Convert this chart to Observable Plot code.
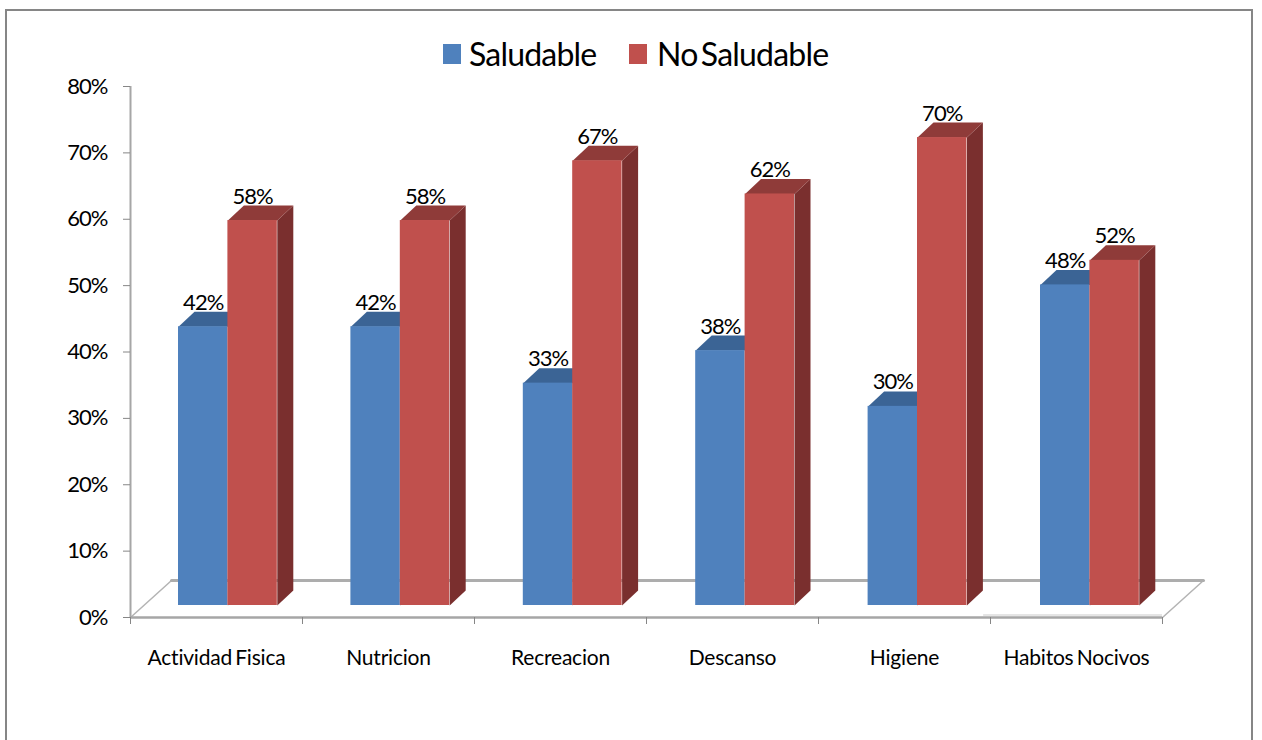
<!DOCTYPE html>
<html>
<head>
<meta charset="utf-8">
<script src="https://cdn.jsdelivr.net/npm/d3@7"></script>
<script src="https://cdn.jsdelivr.net/npm/@observablehq/plot@0.6"></script>
<style>
html,body{margin:0;padding:0;background:#fff;overflow:hidden;width:1262px;height:740px}
#wrap{position:relative;width:1262px;height:740px;font-family:Lato,sans-serif;color:#000}
#frame{position:absolute;left:5px;top:9px;width:1248px;height:800px;border:2px solid #868686;box-sizing:border-box;pointer-events:none}
#legend{position:relative;height:72px}
.sw{position:absolute;top:44px;width:18px;height:20px}
.lb{position:absolute;top:33px;font-size:32px;line-height:42px;white-space:nowrap;letter-spacing:-0.8px;word-spacing:-4px}
svg{display:block;position:relative;background:transparent}
svg text{letter-spacing:-1px}
</style>
</head>
<body>
<div id="wrap">
<div id="frame"></div>
<div id="legend"></div>
<div id="chart"></div>
</div>
<script>
const categories = ["Actividad Fisica","Nutricion","Recreacion","Descanso","Higiene","Habitos Nocivos"];
const saludable = [42,42,33.5,38.4,30,48.3];
const noSaludable = [58,58,67,62,70.5,52];
const yTicks = [0,10,20,30,40,50,60,70,80];
const xTicks = [0,1,2,3,4,5,6];
const seriesNames = ["Saludable","No Saludable"];
const colors = {front:["#4f81bd","#c0504d"], top:["#3b6495","#8f3b39"], side:["#376092","#7a2f2e"]};

// Oblique projection, expressed in the scales' own units
const pxX = 172, pxY = 6.6375;
const depthX = 16/pxX, depthY = 15/pxY, lift = 12/pxY;
const barStart = 48/pxX, barWidth = 49.4/pxX, barStep = 172.4/pxX;

const bars = [];
categories.forEach((c,i)=>{
  [saludable[i],noSaludable[i]].forEach((v,s)=>{
    const x1 = i*barStep+barStart+s*barWidth, x2 = x1+barWidth;
    bars.push({c,i,s,v,x1,x2,y1:lift,y2:v+lift});
  });
});
const sideFaces = s => bars.filter(b=>b.s===s).flatMap(b=>[
  {id:b.i,x:b.x2,y:b.y1},{id:b.i,x:b.x2+depthX,y:b.y1+depthY},
  {id:b.i,x:b.x2+depthX,y:b.y2+depthY},{id:b.i,x:b.x2,y:b.y2}]);
const topFaces = s => bars.filter(b=>b.s===s).flatMap(b=>[
  {id:b.i,x:b.x1,y:b.y2},{id:b.i,x:b.x1+depthX,y:b.y2+depthY},
  {id:b.i,x:b.x2+depthX,y:b.y2+depthY},{id:b.i,x:b.x2,y:b.y2}]);

const floorDX = 41/pxX, floorDY = 37/pxY;
const floorLeft = [{x:0,y:0},{x:floorDX,y:floorDY}];
const floorBack = [{x:floorDX,y:floorDY},{x:6+floorDX,y:floorDY}];
const floorRight = [{x:6+floorDX,y:floorDY},{x:6,y:0}];

const face = (data,fill)=>Plot.line(data,{x:"x",y:"y",z:"id",fill,stroke:null,curve:"linear-closed"});
const seriesMarks = s => [
  face(sideFaces(s),colors.side[s]),
  face(topFaces(s),colors.top[s]),
  Plot.rectY(bars.filter(b=>b.s===s),{x1:"x1",x2:"x2",y1:"y1",y2:"y2",fill:colors.front[s]})
];

const chart = Plot.plot({
  width:1262, height:668,
  marginLeft:130, marginRight:100, marginTop:14, marginBottom:123,
  style:{fontFamily:'Lato,sans-serif',background:"transparent",overflow:"visible"},
  x:{domain:[0,6],type:"linear"},
  y:{domain:[0,80]},
  marks:[
    Plot.line(floorLeft,{x:"x",y:"y",stroke:"#b4b4b4",strokeWidth:1.5}),
    Plot.line(floorRight,{x:"x",y:"y",stroke:"#b4b4b4",strokeWidth:1.5}),
    Plot.line(floorBack,{x:"x",y:"y",stroke:"#adadad",strokeWidth:3}),
    Plot.ruleY([2.5/pxY],{x1:4.96,x2:6,stroke:"#dcdcdc",strokeWidth:1.5}),
    Plot.ruleY([0],{x1:0,x2:6,stroke:"#a6a6a6",strokeWidth:2.5}),
    Plot.ruleX([0],{y1:0,y2:80,stroke:"#a6a6a6",strokeWidth:2}),
    Plot.ruleY(yTicks,{x1:-7/pxX,x2:0,stroke:"#868686",strokeWidth:1}),
    Plot.axisY(yTicks,{tickSize:0,tickPadding:23,tickFormat:d=>d+"%",fontSize:22,fill:"#000",label:null}),
    Plot.axisX(xTicks,{tickSize:7,tickFormat:()=>"",stroke:"#868686",label:null}),
    Plot.axisX(xTicks.slice(0,6).map(d=>d+0.5),{tickSize:0,tickPadding:33,tickFormat:d=>categories[Math.floor(d)],fontSize:21,fill:"#000",label:null}),
    ...seriesMarks(0),
    ...seriesMarks(1),
    Plot.text(bars,{x:b=>b.x1+barWidth/2,y:b=>b.y2+depthY,text:b=>Math.floor(b.v)+"%",fontSize:22,fill:"#000",lineAnchor:"bottom",dy:-2})
  ]
});
chart.querySelectorAll("text").forEach(t=>{
  if (categories.includes(t.textContent)) { t.style.letterSpacing="-0.2px"; t.style.wordSpacing="-2px"; }
});
document.getElementById("chart").appendChild(chart);

const legend = document.getElementById("legend");
const pos = [{sw:443,lb:469},{sw:629,lb:657}];
seriesNames.forEach((n,i)=>{
  const s=document.createElement("div");s.className="sw";s.style.left=pos[i].sw+"px";s.style.background=colors.front[i];legend.appendChild(s);
  const t=document.createElement("div");t.className="lb";t.style.left=pos[i].lb+"px";t.textContent=n;legend.appendChild(t);
});
</script>
</body>
</html>
